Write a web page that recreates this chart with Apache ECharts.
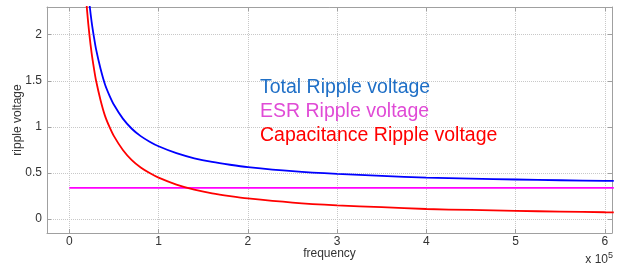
<!DOCTYPE html>
<html>
<head>
<meta charset="utf-8">
<script src="https://cdn.jsdelivr.net/npm/echarts@6/dist/echarts.min.js"></script>
<style>
html, body { margin: 0; padding: 0; background: #fff; }
#rippleChart { width: 624px; height: 268px; }
</style>
</head>
<body>
<div id="rippleChart"></div>
<script>
// frequency (x 10^5) and values
var freq = [0.15, 0.175, 0.2, 0.225, 0.25, 0.275, 0.3, 0.35, 0.4, 0.45, 0.5, 0.6, 0.7, 0.8, 0.9, 1.0,
	1.2, 1.4, 1.6, 1.8, 2.0, 2.5, 3.0, 3.5, 4.0, 4.5, 5.0, 5.5, 6.0, 6.1]
var totalVals = [3.34, 2.91, 2.59, 2.34, 2.14, 1.98, 1.84, 1.63, 1.46, 1.34, 1.24, 1.09, 0.98, 0.90, 0.84, 0.79,
	0.715, 0.66, 0.62, 0.59, 0.565, 0.52, 0.49, 0.47, 0.45, 0.44, 0.43, 0.422, 0.415, 0.414]
var capVals = [3.0, 2.57, 2.25, 2.0, 1.8, 1.64, 1.5, 1.29, 1.12, 1.0, 0.9, 0.75, 0.64, 0.56, 0.5, 0.45,
	0.375, 0.32, 0.28, 0.25, 0.225, 0.18, 0.15, 0.13, 0.11, 0.1, 0.09, 0.082, 0.075, 0.074]
var esrFreq = [0, 6.1]
var esrVals = [0.34, 0.34]

var seriesNames = ['Total Ripple voltage', 'ESR Ripple voltage', 'Capacitance Ripple voltage']

function pairs(xs, ys) {
	var out = []
	for (var i = 0; i < xs.length; i++) out.push([xs[i], ys[i]])
	return out
}

function drawRipple() {
	var chartDom = document.getElementById('rippleChart')
	var myChart = echarts.init(chartDom)
	var font = 'Liberation Sans, Arial, sans-serif'
	var frameColor = '#a0a0a0'
	var gridLine = { show: true, lineStyle: { color: '#c8c8c8', type: 'dotted', width: 1 } }
	var option

	option = {
		animation: false,
		grid: { left: 47, top: 7, right: 12, bottom: 35, containLabel: false, outerBoundsMode: 'none' },
		legend: {
			orient: 'vertical',
			left: 250,
			top: 73,
			icon: 'none',
			itemWidth: 0,
			itemGap: 4,
			textStyle: { fontFamily: font, fontSize: 19.5 },
			data: [
				{ name: seriesNames[0], textStyle: { color: '#1f6fc6' } },
				{ name: seriesNames[1], textStyle: { color: '#e04bd6' } },
				{ name: seriesNames[2], textStyle: { color: '#ff0000' } },
			],
		},
		graphic: [
			{
				type: 'text',
				right: 11,
				bottom: 2,
				style: {
					text: 'x 10{s|5}',
					fontFamily: font,
					fontSize: 12,
					fill: '#333',
					rich: { s: { fontSize: 9, verticalAlign: 'top', padding: [0, 0, 8, 0], fill: '#333' } },
				},
			},
		],
		xAxis: [
			{
				type: 'value',
				min: -0.25,
				max: 6.08,
				splitNumber: 6,
				name: 'frequency',
				nameLocation: 'middle',
				nameGap: 15,
				nameMoveOverlap: false,
				nameTextStyle: { fontFamily: font, fontSize: 12, color: '#333' },
				axisLine: { show: true, onZero: false, lineStyle: { color: frameColor } },
				axisTick: { show: true, inside: true, length: 4, lineStyle: { color: frameColor } },
				axisLabel: { showMinLabel: false, showMaxLabel: false, fontFamily: font, fontSize: 12, color: '#333', margin: 3 },
				splitLine: gridLine,
			},
			{
				type: 'value',
				position: 'top',
				min: -0.25,
				max: 6.08,
				splitNumber: 6,
				axisLine: { show: true, onZero: false, lineStyle: { color: frameColor } },
				axisTick: { show: true, inside: true, length: 4, lineStyle: { color: frameColor } },
				axisLabel: { show: false },
				splitLine: { show: false },
			},
		],
		yAxis: [
			{
				type: 'value',
				min: -0.15,
				max: 2.3,
				splitNumber: 5,
				name: 'ripple voltage',
				nameLocation: 'middle',
				nameGap: 23,
				nameMoveOverlap: false,
				nameTextStyle: { fontFamily: font, fontSize: 12, color: '#333' },
				axisLine: { show: true, onZero: false, lineStyle: { color: frameColor } },
				axisTick: { show: true, inside: true, length: 4, lineStyle: { color: frameColor } },
				axisLabel: { showMinLabel: false, showMaxLabel: false, fontFamily: font, fontSize: 12, color: '#333', margin: 5 },
				splitLine: gridLine,
			},
			{
				type: 'value',
				position: 'right',
				min: -0.15,
				max: 2.3,
				splitNumber: 5,
				axisLine: { show: true, onZero: false, lineStyle: { color: frameColor } },
				axisTick: { show: true, inside: true, length: 4, lineStyle: { color: frameColor } },
				axisLabel: { show: false },
				splitLine: { show: false },
			},
		],
		series: [
			{
				name: seriesNames[0],
				type: 'line',
				data: pairs(freq, totalVals),
				smooth: 0.3,
				showSymbol: false,
				clip: true,
				color: '#0000ff',
				lineStyle: { width: 1.8 },
			},
			{
				name: seriesNames[1],
				type: 'line',
				data: pairs(esrFreq, esrVals),
				showSymbol: false,
				clip: true,
				color: '#ff00ff',
				lineStyle: { width: 1.8 },
			},
			{
				name: seriesNames[2],
				type: 'line',
				data: pairs(freq, capVals),
				smooth: 0.3,
				showSymbol: false,
				clip: true,
				color: '#ff0000',
				lineStyle: { width: 1.8 },
			},
		],
	}

	option && myChart.setOption(option)
}

drawRipple()
</script>
</body>
</html>
